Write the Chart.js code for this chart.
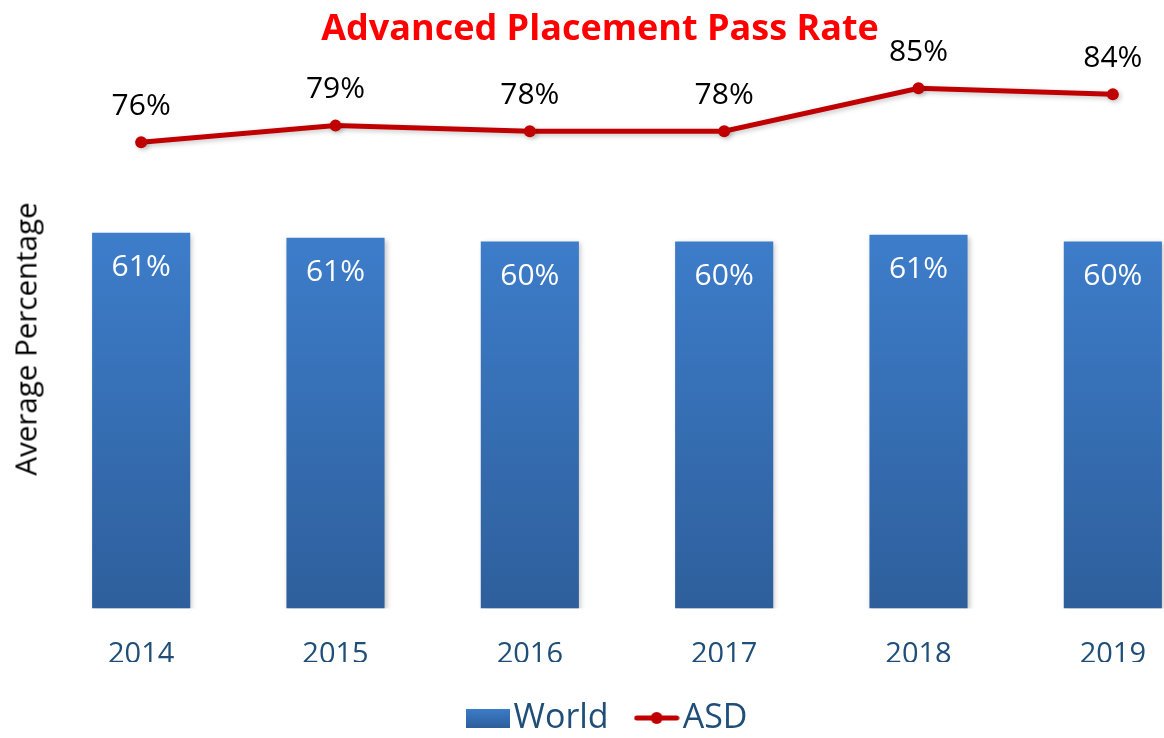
<!DOCTYPE html>
<html>
<head>
<meta charset="utf-8">
<script src="https://cdn.jsdelivr.net/npm/chart.js@4/dist/chart.umd.min.js"></script>
<style>
  html, body { margin: 0; padding: 0; background: #fff; overflow: hidden; width: 1164px; height: 738px; }
  #wrap { position: absolute; left: 0; top: 0; width: 1210px; height: 745px; }
  #title {
    position: absolute; left: 0; width: 1200px; top: 2px; text-align: center;
    font: bold 36px "Open Sans", sans-serif; color: #ff0000; z-index: 2;
  }
  #ylabel {
    position: absolute; left: 25px; top: 339px; white-space: nowrap;
    transform: translate(-50%, -50%) rotate(-90deg);
    font: 29.5px "Open Sans", sans-serif; color: #000;
  }
</style>
</head>
<body>
<div id="wrap">
  <canvas id="myChart" width="1210" height="745"></canvas>
  <div id="title">Advanced Placement Pass Rate</div>
  <div id="ylabel">Average Percentage</div>
</div>
<script>
(() => {
    "use strict";

    const years = ["2014", "2015", "2016", "2017", "2018", "2019"];
    const worldValues = [61.3, 60.5, 59.9, 59.9, 61.0, 59.9];
    const asdValues = [76.1, 78.8, 77.9, 77.9, 84.9, 83.9];
    const seriesNames = ["World", "ASD"];

    const FONT = "'Open Sans', sans-serif";
    const RED = "#c00000";
    const AXIS_BLUE = "#1f4e79";

    // legend markers
    const boxIcon = document.createElement("canvas");
    boxIcon.width = 44; boxIcon.height = 19;
    {
        const c = boxIcon.getContext("2d");
        const g = c.createLinearGradient(0, 0, 0, 19);
        g.addColorStop(0, "#3d7dca");
        g.addColorStop(1, "#2e5f9c");
        c.fillStyle = g;
        c.fillRect(0, 0, 44, 19);
    }
    const lineIcon = document.createElement("canvas");
    lineIcon.width = 46; lineIcon.height = 14;
    {
        const c = lineIcon.getContext("2d");
        c.strokeStyle = RED; c.lineWidth = 5; c.lineCap = "round";
        c.beginPath(); c.moveTo(3, 7); c.lineTo(43, 7); c.stroke();
        c.fillStyle = RED;
        c.beginPath(); c.arc(23, 7, 6, 0, Math.PI * 2); c.fill();
    }

    // soft shadow under bars and line
    const softShadow = {
        id: "softShadow",
        beforeDatasetDraw(chart) {
            const ctx = chart.ctx;
            ctx.save();
            ctx.shadowColor = "rgba(0,0,0,0.22)";
            ctx.shadowBlur = 5;
            ctx.shadowOffsetX = 2;
            ctx.shadowOffsetY = 2;
        },
        afterDatasetDraw(chart) {
            chart.ctx.restore();
        }
    };

    // percentage labels on bars and points
    const valueLabels = {
        id: "valueLabels",
        afterDatasetsDraw(chart) {
            const ctx = chart.ctx;
            ctx.save();
            ctx.textAlign = "center";
            ctx.textBaseline = "middle";
            ctx.font = "30px " + FONT;
            chart.getDatasetMeta(0).data.forEach((el, i) => {
                ctx.fillStyle = "#ffffff";
                ctx.fillText(Math.round(worldValues[i]) + "%", el.x, el.y + 35);
            });
            chart.getDatasetMeta(1).data.forEach((el, i) => {
                ctx.fillStyle = "#000000";
                ctx.fillText(Math.round(asdValues[i]) + "%", el.x, el.y - 36);
            });
            ctx.restore();
        }
    };

    const ctx = document.getElementById("myChart");
    new Chart(ctx, {
        type: "bar",
        data: {
            labels: years,
            datasets: [
                {
                    label: seriesNames[0],
                    data: worldValues,
                    order: 1,
                    backgroundColor: (c) => {
                        const area = c.chart.chartArea;
                        if (!area) return "#3670b8";
                        const g = c.chart.ctx.createLinearGradient(0, area.bottom - 375, 0, area.bottom);
                        g.addColorStop(0, "#3d7dca");
                        g.addColorStop(1, "#2e5f9c");
                        return g;
                    },
                    barPercentage: 0.505,
                    categoryPercentage: 1,
                },
                {
                    type: "line",
                    label: seriesNames[1],
                    data: asdValues,
                    order: 0,
                    borderColor: RED,
                    backgroundColor: RED,
                    borderWidth: 5,
                    pointRadius: 6,
                    pointBackgroundColor: RED,
                    pointBorderWidth: 0,
                    tension: 0,
                    clip: false,
                },
            ],
        },
        options: {
            responsive: false,
            animation: false,
            layout: { autoPadding: false, padding: { left: 16, right: 0, top: 0, bottom: 0 } },
            plugins: {
                legend: {
                    position: "bottom",
                    labels: {
                        usePointStyle: true,
                        pointStyleWidth: 18,
                        padding: 39,
                        color: AXIS_BLUE,
                        font: { family: FONT, size: 34 },
                        generateLabels: () => [
                            { text: seriesNames[0], pointStyle: boxIcon, fontColor: AXIS_BLUE, datasetIndex: 0 },
                            { text: seriesNames[1], pointStyle: lineIcon, fontColor: AXIS_BLUE, datasetIndex: 1 },
                        ],
                    },
                },
                tooltip: { enabled: false },
            },
            scales: {
                x: {
                    grid: { display: false, drawTicks: false },
                    border: { display: false },
                    ticks: { color: AXIS_BLUE, font: { family: FONT, size: 29 }, padding: 29 },
                    afterFit: (s) => { s.height = 53.5; },
                },
                y: {
                    min: 0,
                    max: 99.3,
                    grid: { display: false, drawTicks: false },
                    border: { display: false },
                    ticks: { display: false },
                    afterFit: (s) => { s.width = 28; },
                },
            },
        },
        plugins: [softShadow, valueLabels],
    });
})();
</script>
</body>
</html>
